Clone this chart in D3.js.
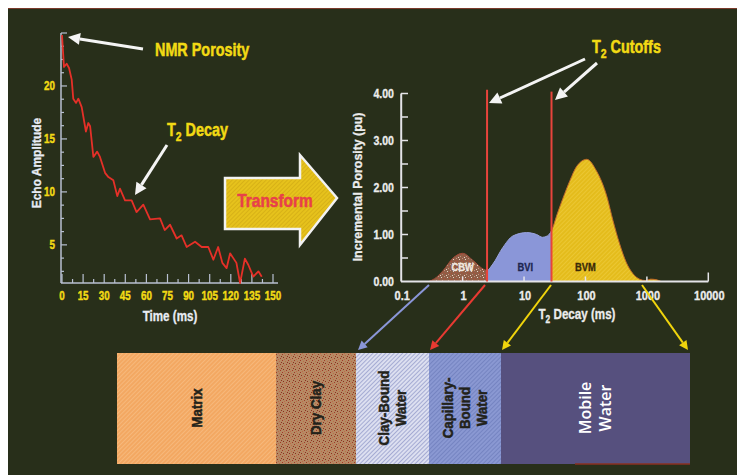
<!DOCTYPE html>
<html><head><meta charset="utf-8">
<script src="https://cdn.jsdelivr.net/npm/d3@7"></script>
<style>
body{margin:0;background:#fff;}
svg{display:block;}
text{font-family:"Liberation Sans",Arial,sans-serif;font-weight:bold;}
</style></head>
<body>
<svg id="c" width="737" height="475"></svg>
<script>
// ---------- DATA ----------
const decayTime = [0,1.4,3.3,5,6.9,8,10,11.6,14,17,18.7,20,22.3,25,27,30.6,33,36.5,39.3,41.2,44.8,49.5,53,57.8,62.6,69.7,73,76.8,81.5,85,88.6,94.6,99.3,104,107.6,111,114,117,119.5,124,126.6,130,132.5,136,139.6,142];
const decayAmp  = [24.8,21.8,22.1,21.7,20.6,18.8,18.4,18.8,18.0,15.7,16.5,16.2,13.3,13.8,13.3,11.8,11.4,11.1,9.6,10.3,9.2,9.2,8.1,8.8,7.4,7.5,6.4,6.9,5.6,5.9,4.8,5.3,4.8,4.8,3.6,4.8,3.3,2.8,4.2,3.3,1.4,3.7,3.1,2.0,2.5,2.0];
const decayXTicks = [0,15,30,45,60,75,90,105,120,135,150];
const decayYTicks = [5,10,15,20];

const t2Values  = [0.28,0.35,0.48,0.7,1.0,1.5,2.2,2.5,3.1,4.5,6.6,11,16,20,24,28,35,43,56,72,105,150,224,280,360,460,590,760,950,1150,1400,1700];
const porosity  = [0,0.06,0.23,0.5,0.6,0.44,0.26,0.24,0.37,0.72,0.97,1.04,1.0,0.94,0.97,1.08,1.45,1.77,2.15,2.45,2.6,2.36,1.8,1.3,0.8,0.41,0.17,0.05,0.02,0.05,0.04,0];
const t2Cutoffs = [2.5,28];
const cutoffTops = [4.08,4.04];
const regionNames = ["CBW","BVI","BVM"];
const regionLabelT2 = [1,10.5,100];
const t2Ticks = [0.1,1,10,100,1000,10000];
const t2TickLabels = ["0.1","1","10","100","1000","10000"];
const porTicks = [0,1,2,3,4];
const porTickLabels = ["0.00","1.00","2.00","3.00","4.00"];

const barNames = [["Matrix"],["Dry Clay"],["Clay-Bound","Water"],["Capillary-","Bound","Water"],["Mobile","Water"]];
const barShares = [159,80,73,72,189];

// ---------- SETUP ----------
const svg = d3.select("#c");
const defs = svg.append("defs");
svg.append("rect").attr("width",737).attr("height",475).attr("fill","#ffffff");
svg.append("rect").attr("x",8).attr("y",8).attr("width",729).attr("height",467).attr("fill","#282f1a");
svg.append("line").attr("x1",8).attr("x2",737).attr("y1",8.5).attr("y2",8.5).attr("stroke","#7a3a2a").attr("stroke-width",1.2);

function label(parent,x,y,str,o){
  const g=parent.append("g").attr("transform",`translate(${x},${y}) rotate(${o.rot||0}) scale(${o.sx||1},1)`);
  const t=g.append("text").attr("text-anchor",o.anchor||"start").attr("font-size",o.size).attr("fill",o.fill);
  if(o.heavy) t.attr("stroke",o.fill).attr("stroke-width",o.heavy).attr("paint-order","stroke");
  if(str!==null) t.text(str);
  return t;
}
function subLabel(parent,x,y,pre,sub,post,o){
  const t=label(parent,x,y,null,o);
  t.append("tspan").text(pre);
  t.append("tspan").attr("dy",o.size*0.28).attr("font-size",o.size*0.72).text(sub);
  t.append("tspan").attr("dy",-o.size*0.28).text(post);
  return t;
}

// patterns
function hatch(id,bg,fg,size,w,angle){
  const p=defs.append("pattern").attr("id",id).attr("patternUnits","userSpaceOnUse")
    .attr("width",size).attr("height",size).attr("patternTransform",`rotate(${angle})`);
  p.append("rect").attr("width",size).attr("height",size).attr("fill",bg);
  p.append("line").attr("x1",0).attr("y1",0).attr("x2",0).attr("y2",size).attr("stroke",fg).attr("stroke-width",w);
}
function speckle(id,bg,cols){
  const p=defs.append("pattern").attr("id",id).attr("patternUnits","userSpaceOnUse").attr("width",6).attr("height",6);
  p.append("rect").attr("width",6).attr("height",6).attr("fill",bg);
  const pts=[[0,0],[3,1],[1,3],[4,4],[2,5],[5,2]];
  pts.forEach((q,i)=>p.append("rect").attr("x",q[0]).attr("y",q[1]).attr("width",1).attr("height",1).attr("fill",cols[i%cols.length]));
}
hatch("pMatrix","#f3a862","#f9c894",3,1,45);
speckle("pDry","#b68a64",["#a03a28","#c06a48","#8a3020"]);
hatch("pCBWbar","#dcdff0","#8088c0",3,1.2,45);
hatch("pCap","#8a98d2","#6676b6",3,1.2,45);
hatch("pBVM","#e4bc1c","#f2d24a",3,1,45);
speckle("pCBW","#8e6048",["#c89080","#e8d0c8","#b04a38"]);
hatch("pTransform","#e6c21c","#c8a012",3,1,45);

function arrow(g,x1,y1,x2,y2,color,w,hl,hw){
  const a=Math.atan2(y2-y1,x2-x1), c=Math.cos(a), s=Math.sin(a);
  const bx=x2-hl*c, by=y2-hl*s;
  g.append("line").attr("x1",x1).attr("y1",y1).attr("x2",bx).attr("y2",by)
    .attr("stroke",color).attr("stroke-width",w);
  g.append("polygon").attr("points",[[x2,y2],[bx-hw*s,by+hw*c],[bx+hw*s,by-hw*c]].map(p=>p.join(",")).join(" "))
    .attr("fill",color);
}

// ---------- LEFT: T2 decay ----------
const xD = d3.scaleLinear().domain([0,150]).range([62,273]);
const yD = d3.scaleLinear().domain([1.4,25]).range([283,33]);
const gL = svg.append("g");
const axisCol = "#b8c0d2";
const yel = "#f2da14";
gL.append("line").attr("x1",61).attr("x2",278).attr("y1",yD(1.4)).attr("y2",yD(1.4)).attr("stroke",axisCol).attr("stroke-width",1.5);
gL.append("line").attr("x1",61).attr("x2",61).attr("y1",yD(1.4)).attr("y2",yD(25)).attr("stroke",axisCol).attr("stroke-width",1.5);
d3.range(0,151,7.5).forEach(v=>{
  const major = v%15===0;
  gL.append("line").attr("x1",xD(v)).attr("x2",xD(v)).attr("y1",yD(1.4)).attr("y2",yD(1.4)-(major?9:4))
    .attr("stroke",axisCol).attr("stroke-width",1.2);
});
decayXTicks.forEach(d=>label(gL,xD(d),300,d,{size:12,fill:yel,anchor:"middle",sx:0.82,heavy:0.4}));
d3.range(2.5,25.1,1.25).forEach(v=>{
  const major = v%5===0;
  gL.append("line").attr("x1",61).attr("x2",61+(major?6:3)).attr("y1",yD(v)).attr("y2",yD(v))
    .attr("stroke",axisCol).attr("stroke-width",1.2);
});
decayYTicks.forEach(d=>label(gL,55,yD(d)+4,d,{size:12,fill:yel,anchor:"end",sx:0.82,heavy:0.4}));
label(gL,41,163,"Echo Amplitude",{size:13,fill:"#e8ecf4",anchor:"middle",rot:-90,sx:0.92,heavy:0.3});
label(gL,170,321,"Time (ms)",{size:14,fill:"#e8ecf4",anchor:"middle",sx:0.83,heavy:0.3});
gL.append("path").datum(decayTime.map((t,i)=>[t,decayAmp[i]]))
  .attr("d",d3.line().x(d=>xD(d[0])).y(d=>yD(d[1])))
  .attr("fill","none").attr("stroke","#e53028").attr("stroke-width",1.8).attr("stroke-linejoin","round");

label(gL,155,56,"NMR Porosity",{size:18,fill:yel,sx:0.8,heavy:0.5});
arrow(gL,143,49,68,37,"#f4f4f4",3,12,6);
subLabel(gL,167,136,"T","2"," Decay",{size:18,fill:yel,sx:0.8,heavy:0.5});
arrow(gL,167,145,135,195,"#f4f4f4",3,12,6);

// ---------- Transform arrow ----------
svg.append("polygon").attr("points","225,178 300,178 300,155 337,198 300,245 300,229 225,229")
  .attr("fill","url(#pTransform)").attr("stroke","#f2f2f2").attr("stroke-width",2.5).attr("stroke-linejoin","miter");
label(svg,275,207,"Transform",{size:18,fill:"#e8404a",anchor:"middle",sx:0.86,heavy:0.5});

// ---------- RIGHT: T2 distribution ----------
const xT = d3.scaleLog().domain([0.1,10000]).range([401.2,708.3]);
const yP = d3.scaleLinear().domain([0,4]).range([281.5,93.5]);
const gR = svg.append("g");
const rAx = "#e4e4e8";
const pts = t2Values.map((t,i)=>[t,porosity[i]]);
const area = d3.area().x(d=>xT(d[0])).y0(yP(0)).y1(d=>yP(d[1])).curve(d3.curveMonotoneX);
const bounds = [0.1, t2Cutoffs[0], t2Cutoffs[1], 10000];
const fills = ["url(#pCBW)","#8a96d8","url(#pBVM)"];
const strokes = ["#a04a38","#9aa4e0","#c06a2a"];
regionNames.forEach((n,i)=>{
  const cp = defs.append("clipPath").attr("id","clip"+i);
  cp.append("rect").attr("x",xT(bounds[i])).attr("y",0).attr("width",xT(bounds[i+1])-xT(bounds[i])).attr("height",475);
  gR.append("path").datum(pts).attr("d",area).attr("fill",fills[i]).attr("stroke",strokes[i]).attr("stroke-width",1)
    .attr("clip-path",`url(#clip${i})`);
});
const labCols = ["#f0e8e0","#1c2550","#3a2a08"];
regionNames.forEach((d,i)=>label(gR,xT(regionLabelT2[i]),yP(0.22),d,{size:11,fill:labCols[i],anchor:"middle",sx:0.85,heavy:0.3}));
gR.append("line").attr("x1",401).attr("x2",708.3).attr("y1",yP(0)).attr("y2",yP(0)).attr("stroke",rAx).attr("stroke-width",2);
gR.append("line").attr("x1",401.2).attr("x2",401.2).attr("y1",yP(0)).attr("y2",yP(4)).attr("stroke",rAx).attr("stroke-width",2);
d3.range(0.5,4.01,0.5).forEach(v=>{
  gR.append("line").attr("x1",401).attr("x2",408).attr("y1",yP(v)).attr("y2",yP(v)).attr("stroke",rAx).attr("stroke-width",1.5);
});
porTicks.forEach((d,i)=>label(gR,394,yP(d)+4.5,porTickLabels[i],{size:12,fill:"#ececec",anchor:"end",sx:0.88,heavy:0.3}));
t2Ticks.slice(1).forEach((v,i)=>{
  const last = i===t2Ticks.length-2;
  gR.append("line").attr("x1",xT(v)).attr("x2",xT(v)).attr("y1",yP(0)).attr("y2",yP(0)-(last?9:5)).attr("stroke",rAx).attr("stroke-width",1.5);
});
t2Ticks.forEach((d,i)=>label(gR,xT(d)+1,300,t2TickLabels[i],{size:12.5,fill:"#ececec",anchor:"middle",sx:0.88,heavy:0.3}));
label(gR,362,187,"Incremental Porosity (pu)",{size:13,fill:"#ececec",anchor:"middle",rot:-90,sx:0.95,heavy:0.3});
subLabel(gR,577,319,"T","2"," Decay (ms)",{size:14,fill:"#ececec",anchor:"middle",sx:0.83,heavy:0.3});
t2Cutoffs.forEach((c,i)=>{
  gR.append("line").attr("x1",xT(c)).attr("x2",xT(c)).attr("y1",yP(0)).attr("y2",yP(cutoffTops[i]))
    .attr("stroke","#e8443c").attr("stroke-width",2);
});
subLabel(gR,592,53,"T","2"," Cutoffs",{size:18,fill:yel,sx:0.8,heavy:0.5});
arrow(gR,585,59,489,103,"#f4f4f4",3,12,6);
arrow(gR,597,63,555,100,"#f4f4f4",3,12,6);

// connectors
arrow(svg,429,285,358,350,"#8a96d8",2,9,4.5);
arrow(svg,485,285,430,350,"#e83a32",2,9,4.5);
arrow(svg,551,285,502,350,"#f0d40c",2,9,4.5);
arrow(svg,642,285,688,350,"#f0d40c",2,9,4.5);

// ---------- Bottom bar ----------
const cum = [0]; barShares.forEach(s=>cum.push(cum[cum.length-1]+s));
const xB = d3.scaleLinear().domain([0,cum[cum.length-1]]).range([117,690]);
const barFills = ["url(#pMatrix)","url(#pDry)","url(#pCBWbar)","url(#pCap)","#56507e"];
const gB = svg.append("g");
barNames.forEach((n,i)=>{
  const x0=xB(cum[i]), x1=xB(cum[i+1]);
  gB.append("rect").attr("x",x0).attr("y",353).attr("width",x1-x0).attr("height",111).attr("fill",barFills[i]);
  const cx=(x0+x1)/2, cy=408, lh = i===4?20:17;
  const t = label(gB,cx,cy,null,{size:i===4?16:14.5,fill:i===4?"#ffffff":"#22221a",anchor:"middle",rot:-90,sx:i===4?1:0.92,heavy:i===4?0:0.5});
  if(i===4) t.style("font-family","'Open Sans','Noto Sans',sans-serif").style("font-weight","600");
  n.forEach((line,j)=>{
    t.append("tspan").attr("x",0).attr("y",(j-(n.length-1)/2)*lh+5).text(line);
  });
});
gB.append("line").attr("x1",575).attr("x2",690).attr("y1",464).attr("y2",464).attr("stroke","#8a3020").attr("stroke-width",1.5);
</script>
</body></html>
